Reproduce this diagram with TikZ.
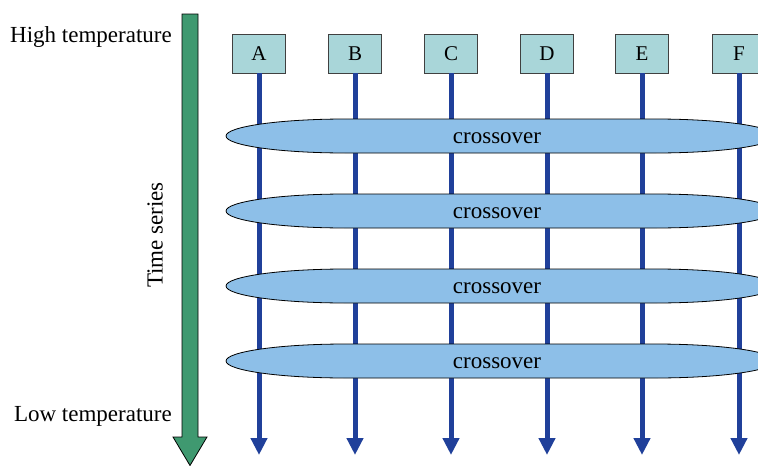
\documentclass[tikz,border=0pt]{standalone}
\usepackage{fontspec}
\setmainfont{Liberation Serif}
\newfontfamily\timesface{Liberation Serif}
\usetikzlibrary{arrows.meta}
\definecolor{timegreen}{HTML}{3F9970}
\definecolor{boxcyan}{HTML}{A9D6D9}
\definecolor{wireblue}{HTML}{20409A}
\definecolor{xoverblue}{HTML}{8DBFE8}
\tikzset{
  lbl/.style={font=\timesface\fontsize{23}{27}\selectfont, inner sep=0pt},
  replica/.style={draw=black!75, fill=boxcyan, line width=0.8pt,
    minimum width=53pt, minimum height=39pt, inner sep=0pt,
    font=\timesface\fontsize{21}{25}\selectfont},
  wire/.style={draw=wireblue, line width=5pt,
    -{Triangle[width=16pt,length=17pt]}},
  xover/.style={draw=black, fill=xoverblue, line width=0.8pt},
  timearrow/.style={draw=black, fill=timegreen, line width=0.8pt},
}
\begin{document}
\begin{tikzpicture}[x=1pt,y=-1pt]
\useasboundingbox (0,0) rectangle (758,466);

% time axis
\draw[timearrow] (182,14) -- (198,14) -- (198,437) -- (207,437) -- (190,465.5)
  -- (173,437) -- (182,437) -- cycle;
\node[lbl, anchor=east] (hot) at (172,37) {High temperature};
\node[lbl, anchor=east] (cold) at (172,416) {Low temperature};
\node[lbl, rotate=90] (axis) at (155,235) {Time series};

% replicas and their trajectories
\foreach \n/\x in {A/259,B/355,C/451,D/547,E/642,F/739}{
  \node[replica] (\n) at (\x,53.5) {\n};
  \coordinate (\n end) at (\x,455);
  \draw[wire] (\n.south) -- (\n end);
}

% exchange stages: long capsules with elliptical ends
\foreach \k/\y in {1/136,2/211,3/286,4/361}{
  \draw[xover] (346,\y-17) -- (655,\y-17)
    arc[start angle=90, end angle=-90, x radius=120pt, y radius=17pt]
    -- (346,\y+17)
    arc[start angle=270, end angle=90, x radius=120pt, y radius=17pt] -- cycle;
  \node[lbl] (x\k) at (497,\y+2) {crossover};
}
\end{tikzpicture}
\end{document}
